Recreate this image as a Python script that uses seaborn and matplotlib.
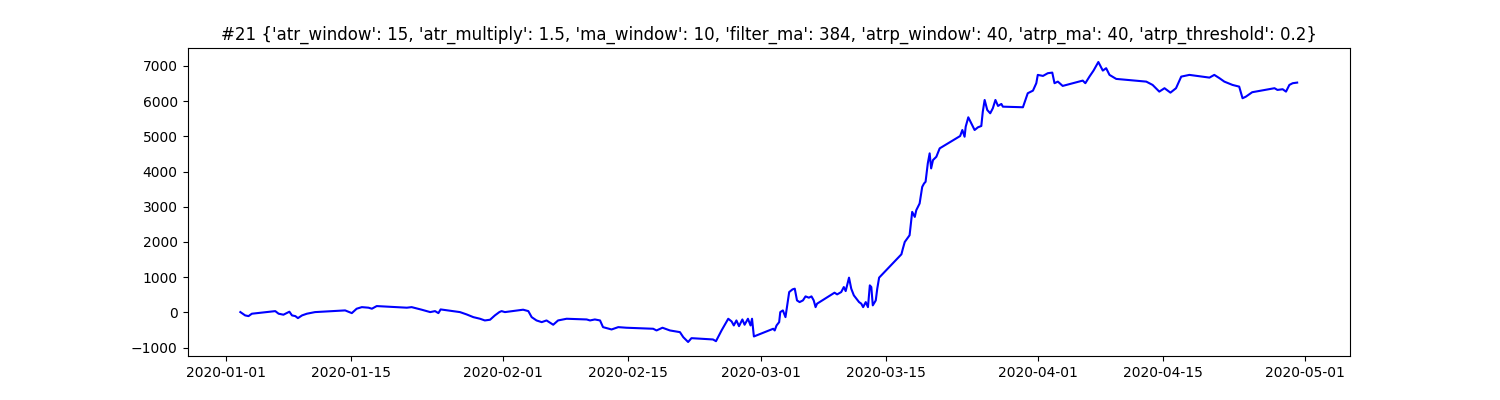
import pandas as pd
import matplotlib
matplotlib.use("Agg")
import matplotlib.pyplot as plt
import seaborn as sns

# equity curve
times = [
    "2020-01-02 14:00", "2020-01-03 03:00", "2020-01-03 12:00", "2020-01-03 21:00",
    "2020-01-06 12:00", "2020-01-06 21:00", "2020-01-07 10:00", "2020-01-08 02:00",
    "2020-01-08 09:00", "2020-01-08 18:00", "2020-01-09 01:00", "2020-01-09 12:00",
    "2020-01-10 01:00", "2020-01-10 23:00", "2020-01-14 08:00", "2020-01-15 02:00",
    "2020-01-15 15:00", "2020-01-16 05:00", "2020-01-16 23:00", "2020-01-17 08:00",
    "2020-01-17 21:00", "2020-01-21 06:00", "2020-01-21 19:00", "2020-01-22 22:00",
    "2020-01-23 21:00", "2020-01-24 10:00", "2020-01-24 19:00", "2020-01-25 01:00",
    "2020-01-27 05:00", "2020-01-27 23:00", "2020-01-28 17:00", "2020-01-29 11:00",
    "2020-01-30 00:00", "2020-01-30 14:00", "2020-01-31 03:00", "2020-01-31 15:00",
    "2020-01-31 21:00", "2020-02-01 06:00", "2020-02-03 07:00", "2020-02-03 21:00",
    "2020-02-04 06:00", "2020-02-04 19:00", "2020-02-05 09:00", "2020-02-05 22:00",
    "2020-02-06 16:00", "2020-02-07 05:00", "2020-02-08 04:00", "2020-02-10 10:00",
    "2020-02-10 19:00", "2020-02-11 08:00", "2020-02-11 22:00", "2020-02-12 06:00",
    "2020-02-13 05:00", "2020-02-13 23:00", "2020-02-14 21:00", "2020-02-17 21:00",
    "2020-02-18 06:00", "2020-02-18 22:00", "2020-02-19 18:00", "2020-02-20 21:00",
    "2020-02-21 06:00", "2020-02-21 19:00", "2020-02-22 04:00", "2020-02-24 14:00",
    "2020-02-24 22:00", "2020-02-25 13:00", "2020-02-26 07:00", "2020-02-26 16:00",
    "2020-02-26 22:00", "2020-02-27 05:00", "2020-02-27 12:00", "2020-02-27 21:00",
    "2020-02-28 03:00", "2020-02-28 12:00", "2020-02-28 19:00", "2020-02-28 23:00",
    "2020-02-29 04:00", "2020-03-02 08:00", "2020-03-02 12:00", "2020-03-02 17:00",
    "2020-03-03 00:00", "2020-03-03 03:00", "2020-03-03 10:00", "2020-03-03 17:00",
    "2020-03-03 21:00", "2020-03-04 03:00", "2020-03-04 12:00", "2020-03-04 18:00",
    "2020-03-05 00:00", "2020-03-05 07:00", "2020-03-05 16:00", "2020-03-05 23:00",
    "2020-03-06 08:00", "2020-03-06 15:00", "2020-03-06 21:00", "2020-03-07 02:00",
    "2020-03-07 06:00", "2020-03-09 05:00", "2020-03-09 12:00", "2020-03-09 23:00",
    "2020-03-10 06:00", "2020-03-10 11:00", "2020-03-10 20:00", "2020-03-11 02:00",
    "2020-03-11 09:00", "2020-03-11 16:00", "2020-03-11 23:00", "2020-03-12 05:00",
    "2020-03-12 10:00", "2020-03-12 17:00", "2020-03-12 23:00", "2020-03-13 04:00",
    "2020-03-13 08:00", "2020-03-13 12:00", "2020-03-13 20:00", "2020-03-14 00:00",
    "2020-03-14 05:00", "2020-03-16 17:00", "2020-03-16 21:00", "2020-03-17 02:00",
    "2020-03-17 15:00", "2020-03-17 22:00", "2020-03-18 05:00", "2020-03-18 09:00",
    "2020-03-18 18:00", "2020-03-19 01:00", "2020-03-19 06:00", "2020-03-19 10:00",
    "2020-03-19 16:00", "2020-03-19 21:00", "2020-03-20 01:00", "2020-03-20 06:00",
    "2020-03-20 15:00", "2020-03-21 00:00", "2020-03-23 07:00", "2020-03-23 13:00",
    "2020-03-23 19:00", "2020-03-23 22:00", "2020-03-24 05:00", "2020-03-24 13:00",
    "2020-03-24 22:00", "2020-03-25 07:00", "2020-03-25 16:00", "2020-03-25 20:00",
    "2020-03-26 01:00", "2020-03-26 08:00", "2020-03-26 16:00", "2020-03-26 23:00",
    "2020-03-27 06:00", "2020-03-27 13:00", "2020-03-27 22:00", "2020-03-28 02:00",
    "2020-03-30 08:00", "2020-03-30 21:00", "2020-03-31 11:00", "2020-03-31 20:00",
    "2020-04-01 00:00", "2020-04-01 14:00", "2020-04-02 03:00", "2020-04-02 15:00",
    "2020-04-02 21:00", "2020-04-03 06:00", "2020-04-03 19:00", "2020-04-06 01:00",
    "2020-04-06 08:00", "2020-04-06 19:00", "2020-04-07 06:00", "2020-04-07 19:00",
    "2020-04-08 07:00", "2020-04-08 16:00", "2020-04-09 01:00", "2020-04-09 19:00",
    "2020-04-13 04:00", "2020-04-13 21:00", "2020-04-14 15:00", "2020-04-15 05:00",
    "2020-04-15 21:00", "2020-04-16 12:00", "2020-04-17 02:00", "2020-04-18 00:00",
    "2020-04-20 06:00", "2020-04-20 19:00", "2020-04-21 09:00", "2020-04-21 22:00",
    "2020-04-22 20:00", "2020-04-23 14:00", "2020-04-23 23:00", "2020-04-24 08:00",
    "2020-04-25 01:00", "2020-04-27 13:00", "2020-04-27 21:00", "2020-04-28 11:00",
    "2020-04-28 20:00", "2020-04-29 05:00", "2020-04-29 14:00", "2020-04-30 02:00",
]
equity = [
    10, -85, -105, -37,
    37, -37, -65, 20,
    -85, -105, -162, -85,
    -37, 9, 57, -20,
    105, 150, 134, 105,
    180, 134, 150, 77,
    9, 37, -20, 85,
    9, -57, -134, -180,
    -228, -208, -85, 9,
    37, 9, 77, 37,
    -134, -228, -276, -228,
    -350, -228, -180, -200,
    -228, -200, -228, -418,
    -484, -418, -435, -464,
    -512, -435, -512, -560,
    -703, -840, -731, -768,
    -817, -512, -180, -256,
    -370, -228, -390, -200,
    -350, -180, -370, -180,
    -683, -464, -512, -370,
    -276, 9, 57, -134,
    150, 578, 654, 674,
    341, 293, 341, 455,
    418, 455, 341, 150,
    248, 560, 512, 578,
    720, 606, 987, 674,
    484, 390, 293, 248,
    150, 293, 150, 768,
    720, 200, 341, 674,
    987, 1650, 1813, 2000,
    2191, 2854, 2712, 2902,
    3093, 3565, 3662, 3708,
    4231, 4516, 4089, 4325,
    4419, 4658, 5008, 5179,
    4988, 5273, 5540, 5370,
    5179, 5256, 5293, 5700,
    6032, 5748, 5654, 5796,
    6032, 5862, 5919, 5842,
    5825, 6223, 6297, 6508,
    6744, 6715, 6792, 6809,
    6508, 6553, 6431, 6582,
    6508, 6695, 6866, 7110,
    6866, 6934, 6744, 6630,
    6553, 6459, 6269, 6366,
    6240, 6366, 6695, 6744,
    6667, 6744, 6650, 6553,
    6459, 6411, 6081, 6126,
    6252, 6366, 6317, 6337,
    6269, 6459, 6508, 6525,
]

params_title = ("#21 {'atr_window': 15, 'atr_multiply': 1.5, 'ma_window': 10, "
                "'filter_ma': 384, 'atrp_window': 40, 'atrp_ma': 40, 'atrp_threshold': 0.2}")

df = pd.DataFrame({"time": pd.to_datetime(times), "equity": equity})

fig, ax = plt.subplots(figsize=(15, 4), dpi=100)
sns.lineplot(data=df, x="time", y="equity", color="blue", linewidth=1.5, ax=ax)
ax.set_title(params_title)
ax.set_xlabel("")
ax.set_ylabel("")
plt.savefig("out.png", dpi=100)
plt.close()
